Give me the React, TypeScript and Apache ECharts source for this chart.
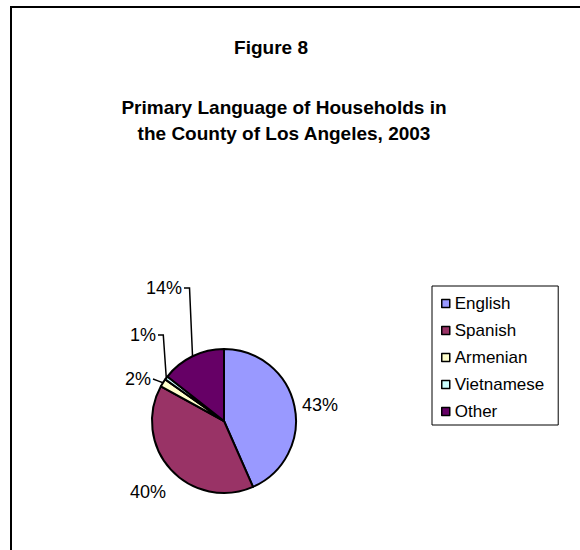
import React, { useEffect, useRef } from "react";
import * as echarts from "echarts";

// ---- Data ----
const categories = ["English", "Spanish", "Armenian", "Vietnamese", "Other"];
const shares = [43.4, 39.6, 1.8, 0.8, 14.4];
const colors = ["#9999FF", "#993366", "#FFFFCC", "#CCFFFF", "#660066"];
const figureLabel = "Figure 8";
const titleLines = [
  "Primary Language of Households in",
  "the County of Los Angeles, 2003",
];

// ---- Layout (not data) ----
const FONT = "'Liberation Sans', Arial, Helvetica, sans-serif";
const PIE_CENTER = [224, 421];
const PIE_RADIUS = 72;
// label anchor positions relative to the pie centre, plus leader style
const LABEL_PLACES = [
  { dx: 78, dy: -16, align: "left", line: "none" },
  { dx: -58, dy: 71, align: "right", line: "none" },
  { dx: -73, dy: -42, align: "right", line: "straight" },
  { dx: -68, dy: -86, align: "right", line: "bracket" },
  { dx: -42, dy: -133, align: "right", line: "bracket" },
];

export default function App() {
  const ref = useRef<HTMLDivElement>(null);

  useEffect(() => {
    document.body.style.margin = "0";
    if (!ref.current) return;
    const chart = echarts.init(ref.current, undefined, { renderer: "svg" });

    const data = categories.map((name, i) => ({
      name,
      value: shares[i],
      itemStyle: { color: colors[i] },
      labelLine: { show: LABEL_PLACES[i].line !== "none" },
    }));

    chart.setOption({
      animation: false,
      backgroundColor: "#ffffff",
      title: [
        {
          text: figureLabel,
          left: 271,
          top: 47,
          padding: 0,
          textAlign: "center",
          textVerticalAlign: "middle",
          textStyle: {
            fontFamily: FONT,
            fontSize: 19,
            fontWeight: "bold",
            color: "#000",
          },
        },
        {
          text: titleLines.join("\n"),
          left: 284,
          top: 120,
          padding: 0,
          textAlign: "center",
          textVerticalAlign: "middle",
          textStyle: {
            fontFamily: FONT,
            fontSize: 19,
            fontWeight: "bold",
            color: "#000",
            lineHeight: 26,
          },
        },
      ],
      graphic: [
        {
          type: "rect",
          silent: true,
          shape: { x: 11, y: 7, width: 900, height: 900 },
          style: { fill: "none", stroke: "#000", lineWidth: 2 },
        },
      ],
      legend: {
        orient: "vertical",
        left: 432,
        top: 286,
        data: categories,
        icon: "rect",
        itemWidth: 8,
        itemHeight: 8,
        itemGap: 10,
        padding: [9, 14, 5, 9],
        backgroundColor: "#fff",
        borderColor: "#000",
        borderWidth: 1,
        borderRadius: 0,
        selectedMode: false,
        itemStyle: { borderColor: "#000", borderWidth: 1.5 },
        textStyle: { fontFamily: FONT, fontSize: 17, color: "#000", padding: [0, 0, 0, 0] },
      },
      series: [
        {
          type: "pie",
          center: PIE_CENTER,
          radius: PIE_RADIUS,
          startAngle: 90,
          clockwise: true,
          silent: true,
          percentPrecision: 0,
          itemStyle: { borderColor: "#000", borderWidth: 2 },
          emphasis: { disabled: true },
          label: {
            show: true,
            position: "outside",
            formatter: "{d}%",
            fontFamily: FONT,
            fontSize: 18,
            color: "#000",
          },
          labelLine: {
            show: true,
            length: 10,
            length2: 10,
            lineStyle: { color: "#000", width: 1.5 },
          },
          labelLayout: (params: any) => {
            const p = LABEL_PLACES[params.dataIndex];
            const x = PIE_CENTER[0] + p.dx;
            const y = PIE_CENTER[1] + p.dy;
            const res: any = { x, y, align: p.align, verticalAlign: "middle" };
            const pts = params.labelLinePoints;
            if (p.line !== "none" && pts && pts[0]) {
              const s = pts[0];
              if (p.line === "bracket") {
                const vx = s[0] - 3;
                res.labelLinePoints = [s, [vx, y], [x + 2, y]];
              } else {
                res.labelLinePoints = [
                  s,
                  [(s[0] + x + 2) / 2, (s[1] + y) / 2],
                  [x + 2, y],
                ];
              }
            }
            return res;
          },
          data,
        },
      ],
    });

    return () => chart.dispose();
  }, []);

  return <div ref={ref} style={{ width: 580, height: 550 }} />;
}
